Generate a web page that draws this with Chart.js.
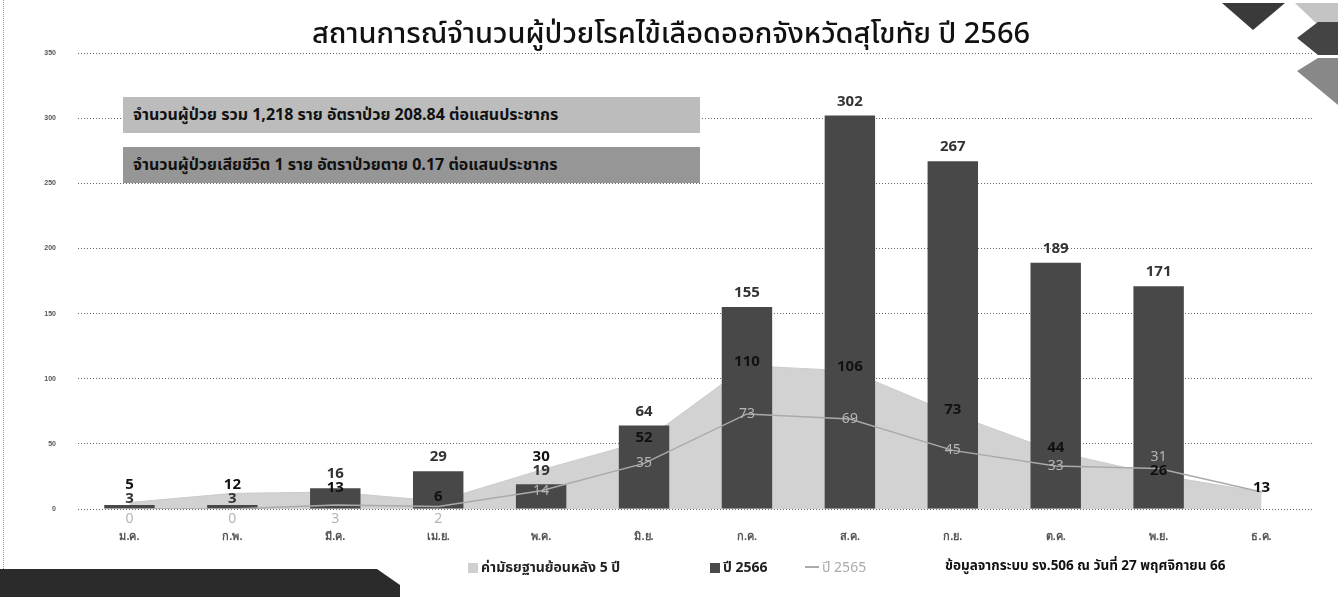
<!DOCTYPE html>
<html>
<head>
<meta charset="utf-8">
<script src="https://cdn.jsdelivr.net/npm/chart.js@4.4.0/dist/chart.umd.min.js"></script>
<style>
  body { margin: 0; background: #fff; font-family: 'Noto Sans Thai', 'Noto Sans', 'DejaVu Sans', sans-serif; }
  #wrap { position: relative; width: 1341px; height: 597px; overflow: hidden; }
  #chart { position: absolute; left: 0; top: 0; }
  .abs { position: absolute; white-space: nowrap; }
  #title { left: 312px; top: 12px; font-size: 29px; font-weight: 500; color: #111; }
  .box { left: 123px; width: 577px; height: 36px; line-height: 36px; font-size: 16px; font-weight: bold; color: #111; text-indent: 10px; }
  #box1 { top: 97px; background: #bcbcbc; }
  #box2 { top: 147px; background: #969696; }
  .leg { top: 557px; font-size: 14px; font-weight: bold; color: #222; }
  .sw { display: inline-block; width: 10px; height: 10px; margin-right: 3px; vertical-align: -1px; }
  #src { left: 945px; top: 556px; font-size: 13.5px; font-weight: bold; color: #111; }
  #leftline { left: 3px; top: 0; width: 0; height: 597px; border-left: 1px dotted #999; }
</style>
</head>
<body>
<div id="wrap">
  <canvas id="chart" width="1341" height="597"></canvas>
  <div id="leftline" class="abs"></div>
  <div id="title" class="abs">สถานการณ์จำนวนผู้ป่วยโรคไข้เลือดออกจังหวัดสุโขทัย ปี 2566</div>
  <div id="box1" class="abs box">จำนวนผู้ป่วย รวม 1,218 ราย อัตราป่วย 208.84 ต่อแสนประชากร</div>
  <div id="box2" class="abs box">จำนวนผู้ป่วยเสียชีวิต 1 ราย อัตราป่วยตาย 0.17 ต่อแสนประชากร</div>
  <div class="abs leg" style="left:468px"><span class="sw" style="background:#cfcfcf"></span>ค่ามัธยฐานย้อนหลัง 5 ปี</div>
  <div class="abs leg" style="left:710px"><span class="sw" style="background:#4a4a4a"></span>ปี 2566</div>
  <div class="abs leg" style="left:805px;color:#aaa;font-weight:normal"><span style="display:inline-block;width:14px;height:0;border-top:2px solid #aaa;vertical-align:4px;margin-right:3px"></span>ปี 2565</div>
  <div id="src" class="abs">ข้อมูลจากระบบ รง.506 ณ วันที่ 27 พฤศจิกายน 66</div>
  <svg class="abs" style="left:0;top:0" width="1341" height="597">
    <polygon points="1222,3 1285,3 1253,30" fill="#3a3a3a"/>
    <polygon points="1295,3 1338,3 1338,25 1318,25" fill="#c4c4c4"/>
    <polygon points="1318,22 1338,22 1338,55 1318,55 1297,38" fill="#444"/>
    <polygon points="1318,58 1338,58 1338,105 1297,71" fill="#888"/>
    <polygon points="0,569 377,569 400,585 400,597 0,597" fill="#2b2b2b"/>
  </svg>
</div>
<script>
const months = ['ม.ค.', 'ก.พ.', 'มี.ค.', 'เม.ย.', 'พ.ค.', 'มิ.ย.', 'ก.ค.', 'ส.ค.', 'ก.ย.', 'ต.ค.', 'พ.ย.', 'ธ.ค.'];
const cases2566 = [3, 3, 16, 29, 19, 64, 155, 302, 267, 189, 171, null];
const median5yr = [5, 12, 13, 6, 30, 52, 110, 106, 73, 44, 26, 13];
const cases2565 = [0, 0, 3, 2, 14, 35, 73, 69, 45, 33, 31, 13];
const yMax = 350;
const yStep = 50;

// value labels; in each month the bigger value is pushed above the smaller one
const valueLabels = {
  id: 'valueLabels',
  afterDatasetsDraw(chart) {
    const ctx = chart.ctx;
    const base = chart.scales.y.getPixelForValue(0);
    const medMeta = chart.getDatasetMeta(0);
    const barMeta = chart.getDatasetMeta(1);
    const lineMeta = chart.getDatasetMeta(2);
    const styles = {
      med: ['bold 15px "Noto Sans", sans-serif', '#111'],
      bar: ['bold 15px "Noto Sans", sans-serif', '#333'],
      line: ['14px "Noto Sans", sans-serif', '#b5b5b5']
    };
    ctx.save();
    ctx.textAlign = 'center';
    ctx.textBaseline = 'middle';

    months.forEach(function (m, i) {
      const items = [];
      const x = medMeta.data[i].x;
      const lv = cases2565[i];
      if (i < 11) {
        if (lv < 5) {
          ctx.font = styles.line[0];
          ctx.fillStyle = styles.line[1];
          ctx.fillText(lv, x, base + 10);
        } else {
          items.push({ v: lv, y: lineMeta.data[i].y, s: 'line' });
        }
      }
      const bv = cases2566[i];
      if (bv != null) {
        const by = barMeta.data[i].y;
        items.push({ v: bv, y: bv < 10 ? by - 6 : by - 14, s: 'bar' });
      }
      items.push({ v: median5yr[i], y: medMeta.data[i].y - 4, s: 'med' });

      items.sort(function (a, b) { return a.v - b.v; });
      for (let k = 1; k < items.length; k++) {
        if (items[k].y > items[k - 1].y - 14) items[k].y = items[k - 1].y - 14;
      }
      // draw light labels first so the dark ones stay on top
      ['line', 'bar', 'med'].forEach(function (s) {
        items.filter(function (it) { return it.s === s; }).forEach(function (it) {
          ctx.font = styles[s][0];
          ctx.fillStyle = styles[s][1];
          ctx.fillText(it.v, x, it.y);
        });
      });
    });
    ctx.restore();
  }
};

new Chart(document.getElementById('chart'), {
  type: 'bar',
  data: {
    labels: months,
    datasets: [{
      type: 'line',
      label: 'ค่ามัธยฐานย้อนหลัง 5 ปี',
      data: median5yr,
      fill: 'origin',
      backgroundColor: '#d2d2d2',
      borderColor: '#cbcbcb',
      borderWidth: 1,
      pointRadius: 0,
      tension: 0,
      order: 3
    }, {
      label: 'ปี 2566',
      data: cases2566,
      backgroundColor: '#484848',
      categoryPercentage: 1,
      barPercentage: 0.49,
      order: 2
    }, {
      type: 'line',
      label: 'ปี 2565',
      data: cases2565,
      fill: false,
      borderColor: '#aaaaaa',
      borderWidth: 1.5,
      pointRadius: 0,
      tension: 0,
      order: 1
    }]
  },
  options: {
    responsive: false,
    animation: false,
    devicePixelRatio: 1,
    layout: { padding: { top: 53, right: 28, left: 0, bottom: 0 } },
    plugins: { legend: { display: false }, tooltip: { enabled: false } },
    scales: {
      x: {
        grid: { display: false },
        border: { display: false },
        ticks: { color: '#555', font: { size: 11, weight: 'bold' }, padding: 13 },
        afterFit: function (scale) { scale.height = 88; }
      },
      y: {
        min: 0,
        max: yMax,
        ticks: { stepSize: yStep, color: '#555', font: { size: 7, weight: 'bold' }, padding: 22 },
        grid: { color: '#666', lineWidth: 1, drawTicks: false },
        border: { display: false, dash: [1, 2] },
        afterFit: function (scale) { scale.width = 78; }
      }
    }
  },
  plugins: [valueLabels]
});
</script>
</body>
</html>
